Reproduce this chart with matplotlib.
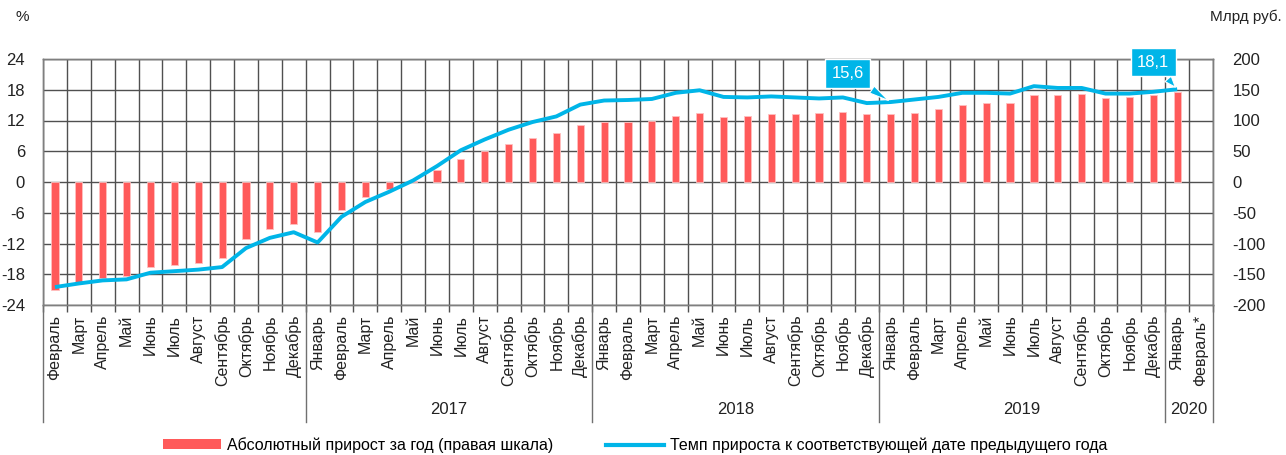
import numpy as np
import matplotlib
matplotlib.use("Agg")
import matplotlib.pyplot as plt
import matplotlib.transforms as mtransforms
from matplotlib.patches import Patch
from matplotlib.lines import Line2D

plt.rcParams['font.family'] = ['Liberation Sans', 'DejaVu Sans']
plt.rcParams['axes.unicode_minus'] = False

months = ["Февраль", "Март", "Апрель", "Май", "Июнь", "Июль", "Август", "Сентябрь",
          "Октябрь", "Ноябрь", "Декабрь",
          "Январь", "Февраль", "Март", "Апрель", "Май", "Июнь", "Июль", "Август",
          "Сентябрь", "Октябрь", "Ноябрь", "Декабрь",
          "Январь", "Февраль", "Март", "Апрель", "Май", "Июнь", "Июль", "Август",
          "Сентябрь", "Октябрь", "Ноябрь", "Декабрь",
          "Январь", "Февраль", "Март", "Апрель", "Май", "Июнь", "Июль", "Август",
          "Сентябрь", "Октябрь", "Ноябрь", "Декабрь",
          "Январь", "Февраль*"]

years = ["2017", "2018", "2019", "2020"]
year_bounds = [10.5, 22.5, 34.5, 46.5, 48.5]

# absolute growth, bln rub (right axis); last month has no data
abs_growth = [-175, -163, -156, -153, -139, -135, -131, -124, -93, -76, -68,
              -82, -46, -25, -11, 1, 19, 38, 51, 62, 72, 80, 93,
              98, 98, 100, 107, 112, 106, 107, 110, 110, 112, 114, 110,
              110, 113, 119, 126, 128, 128, 141, 141, 143, 137, 138, 141,
              146, np.nan]

# growth rate, % (left axis)
growth_rate = [-20.5, -19.8, -19.2, -19.0, -17.7, -17.4, -17.1, -16.6, -12.9, -10.9, -9.8,
               -11.8, -6.8, -3.9, -1.9, 0.3, 3.1, 6.2, 8.3, 10.2, 11.7, 12.8, 15.1,
               15.9, 16.0, 16.2, 17.4, 17.9, 16.6, 16.5, 16.7, 16.5, 16.3, 16.5, 15.4,
               15.6, 16.1, 16.6, 17.4, 17.4, 17.25, 18.7, 18.35, 18.35, 17.25, 17.25, 17.6,
               18.1, np.nan]

red = "#ff5a5a"
blue = "#00b5e8"
grid_c = "#505050"
txt_c = "#222222"
fs = 11

x = np.arange(len(months))

fig = plt.figure(figsize=(12.86, 4.55), dpi=100)
ax = fig.add_axes([43 / 1286, 1 - 305 / 455, 1170 / 1286, 246 / 455])
ax2 = ax.twinx()

ax2.bar(x, abs_growth, width=0.3, color=red, edgecolor="#ffc0c0", linewidth=0.6, zorder=3)
ax.plot(x, growth_rate, color=blue, lw=2.8, zorder=4, solid_capstyle="butt")

ax.set_zorder(ax2.get_zorder() + 1)
ax.patch.set_visible(False)

ax.set_xlim(-0.5, len(months) - 0.5)
ax.set_ylim(-24, 24)
ax2.set_ylim(-200, 200)

lt = np.arange(-24, 25, 6)
ax.set_yticks(lt)
ax.set_yticklabels([str(v) for v in lt], fontsize=fs + 1, color=txt_c)
rt = np.arange(-200, 201, 50)
ax2.set_yticks(rt)
ax2.set_yticklabels([str(v) for v in rt], fontsize=fs + 1, color=txt_c)
ax.tick_params(axis="y", length=0, pad=13)
ax2.tick_params(axis="y", length=0, pad=14)

# grid on the back axes
for v in rt:
    ax2.axhline(v, color=grid_c, lw=1, zorder=1)
for b in np.arange(-0.5, len(months), 1.0):
    ax2.axvline(b, color=grid_c, lw=1, zorder=1)

ax.set_xticks(x)
ax.set_xticklabels(months, rotation=90, fontsize=fs + 0.5, va="top", color=txt_c)
ax.set_xticks(np.arange(-0.5, len(months), 1.0), minor=True)
ax.tick_params(axis="x", which="major", length=0, pad=7)
ax.tick_params(axis="x", which="minor", length=5, color=grid_c, width=1)

for a in (ax, ax2):
    for s in a.spines.values():
        s.set_color("#7f7f7f")
        s.set_linewidth(1)

# year separators and labels
trans = mtransforms.blended_transform_factory(ax.transData, ax.transAxes)
for b in [-0.5] + year_bounds:
    ax.plot([b, b], [0, -117 / 246], color="#707070", lw=1, transform=trans, clip_on=False)
for i, yl in enumerate(years):
    xc = (year_bounds[i] + year_bounds[i + 1]) / 2
    ax.text(xc, -105 / 246, yl, transform=trans, ha="center", va="center",
            fontsize=fs + 1, color=txt_c)

fig.text(15 / 1286, 1 - 17 / 455, "%", fontsize=fs, color=txt_c, va="center")
fig.text(1282 / 1286, 1 - 17 / 455, "Млрд руб.", fontsize=fs, color=txt_c,
         va="center", ha="right")

# callouts
ax.annotate("15,6", xy=(35, 15.6), xytext=(33.2, 21.2), ha="center", va="center",
            fontsize=fs + 1, color="white",
            bbox=dict(boxstyle="square,pad=0.4", fc=blue, ec="white", lw=1),
            arrowprops=dict(arrowstyle="wedge,tail_width=0.5", fc=blue, ec="white", lw=0.8),
            zorder=6)
ax.annotate("18,1", xy=(47, 18.1), xytext=(46.0, 23.4), ha="center", va="center",
            fontsize=fs + 1, color="white",
            bbox=dict(boxstyle="square,pad=0.4", fc=blue, ec="white", lw=1),
            arrowprops=dict(arrowstyle="wedge,tail_width=0.5", fc=blue, ec="white", lw=0.8),
            annotation_clip=False, zorder=6)

handles = [Patch(facecolor=red, edgecolor="none"),
           Line2D([0], [0], color=blue, lw=3)]
labels = ["Абсолютный прирост за год (правая шкала)",
          "Темп прироста к соответствующей дате предыдущего года"]
fig.legend(handles, labels, loc="center", bbox_to_anchor=(0.494, 1 - 445 / 455),
           ncol=2, frameon=False, fontsize=fs + 0.5, handlelength=3.6, handleheight=0.6,
           columnspacing=3.3, handletextpad=0.4)

fig.savefig("out.png", dpi=100)
